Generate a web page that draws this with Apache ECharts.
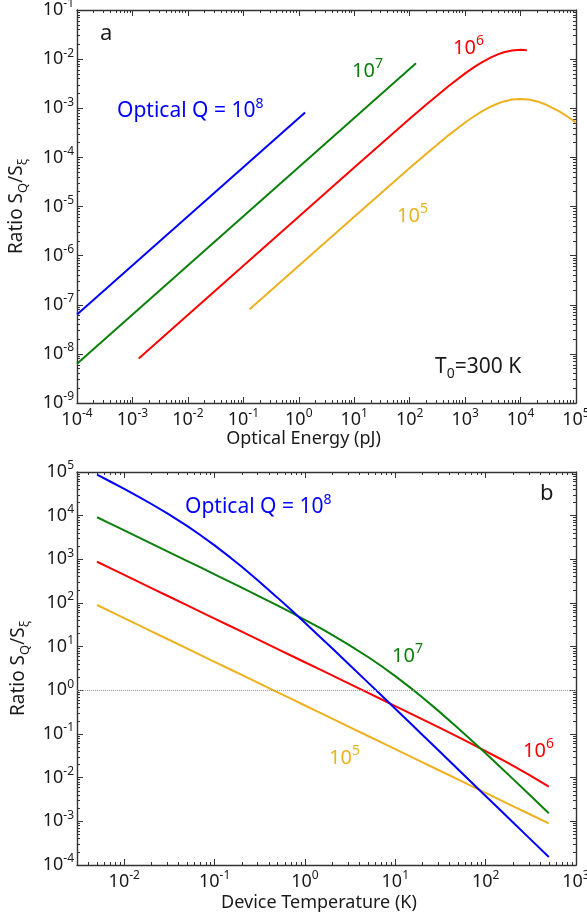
<!DOCTYPE html>
<html>
<head>
<meta charset="utf-8">
<title>Ratio SQ/Sxi</title>
<script src="https://cdn.jsdelivr.net/npm/echarts@6/dist/echarts.min.js"></script>
<style>
html, body { margin: 0; padding: 0; background: #fff; }
#main { width: 587px; height: 918px; }
</style>
</head>
<body>
<div id="main"></div>
<script>
// panel a: ratio vs optical energy (pJ), T0 = 300 K
const energyQ8 = [1e-4, 1.3];
const ratioQ8 = [6.3e-8, 8.2e-4];
const energyQ7 = [1e-4, 130];
const ratioQ7 = [6.3e-9, 8.2e-3];
const energyQ6 = [1.3e-3, 0.1, 10, 100, 200, 500, 1000, 1500, 2000, 3000, 4000, 5000, 7000, 10000, 13000];
const ratioQ6 = [8.06e-9, 6.2e-7, 6.19e-5, 6.08e-4, 1.19e-3, 2.81e-3, 5.12e-3, 7.03e-3, 8.61e-3, 1.10e-2, 1.265e-2, 1.378e-2, 1.502e-2, 1.55e-2, 1.524e-2];
const energyQ5 = [0.13, 10, 100, 200, 500, 1000, 1500, 2000, 3000, 4000, 5000, 7000, 10000, 14000, 20000, 30000, 50000, 70000, 100000];
const ratioQ5 = [8.06e-8, 6.19e-6, 6.08e-5, 1.19e-4, 2.81e-4, 5.12e-4, 7.03e-4, 8.61e-4, 1.10e-3, 1.265e-3, 1.378e-3, 1.502e-3, 1.55e-3, 1.507e-3, 1.378e-3, 1.163e-3, 8.61e-4, 6.78e-4, 5.12e-4];

// panel b: ratio vs device temperature (K)
const tempK = [0.005, 0.007, 0.01, 0.015, 0.02, 0.03, 0.05, 0.07, 0.1, 0.15, 0.2, 0.3, 0.5, 0.7, 1, 1.5,
  2, 3, 5, 7, 10, 15, 20, 30, 50, 70, 100, 150, 200, 300, 500];
const ratioT8 = [8.68e4, 6.06e4, 4.1e4, 2.6e4, 1.85e4, 1.126e4, 5741, 3565, 2086, 1092, 674.6, 332.3, 131.0, 69.7, 35.25, 16.08,
  9.165, 4.128, 1.502, 0.770, 0.3787, 0.1688, 0.0951, 0.0423, 0.01525, 7.78e-3, 3.815e-3, 1.696e-3, 9.54e-4, 4.24e-4, 1.527e-4];
const ratioT7 = [9195, 6566, 4595, 3061, 2295, 1528, 914.6, 651.8, 454.7, 301.4, 224.7, 148.1, 86.89, 60.72, 41.16, 26.07,
  18.62, 11.33, 5.793, 3.604, 2.1135, 1.1092, 0.686, 0.3385, 0.1337, 0.07115, 0.03604, 0.016446, 9.377e-3, 4.225e-3, 1.538e-3];
const ratioT6 = [880, 628.6, 440, 293.3, 220, 146.7, 88, 62.86, 44, 29.33, 22.0, 14.66, 8.797, 6.282, 4.396, 2.930,
  2.196, 1.463, 0.8765, 0.625, 0.4364, 0.2897, 0.2164, 0.1431, 0.08448, 0.05937, 0.04062, 0.02607, 0.01886, 0.01173, 6.21e-3];
const ratioT5 = [90, 64.3, 45, 30, 22.5, 15, 9, 6.43, 4.5, 3, 2.25, 1.5, 0.9, 0.643, 0.45, 0.3,
  0.225, 0.15, 0.09, 0.0643, 0.045, 0.03, 0.0225, 0.015, 9e-3, 6.4e-3, 4.5e-3, 2.99e-3, 2.24e-3, 1.49e-3, 8.95e-4];

// axis ranges and decade labels (exponents)
const energyRange = [1e-4, 1e5];
const ratioRangeA = [1e-9, 1e-1];
const tempRange = [0.003, 1000];
const ratioRangeB = [1e-4, 1e5];
const energyExp = [-4, -3, -2, -1, 0, 1, 2, 3, 4, 5];
const ratioExpA = [-9, -8, -7, -6, -5, -4, -3, -2, -1];
const tempExp = [-2, -1, 0, 1, 2, 3];
const ratioExpB = [-4, -3, -2, -1, 0, 1, 2, 3, 4, 5];

const FONT = '"Noto Sans", sans-serif';
const INK = '#1a1a1a';
const C8 = '#0000ff', C7 = '#0a800a', C6 = '#ff0000', C5 = '#edb120';

const lg = Math.log10;
const pts = (xs, ys) => xs.map((x, i) => [lg(x), lg(ys[i])]);

function minorTicks(lo, hi) {
  const out = [];
  for (let d = Math.floor(lo); d < Math.ceil(hi); d++) {
    for (let k = 2; k <= 9; k++) {
      const v = d + lg(k);
      if (v > lo + 1e-6 && v < hi - 1e-6) out.push(v);
    }
  }
  return out;
}

const tickRich = {
  b: { fontSize: 18, lineHeight: 24, verticalAlign: 'middle', color: INK, fontFamily: FONT },
  s: { fontSize: 12, lineHeight: 14, verticalAlign: 'top', color: INK, fontFamily: FONT }
};
const powLabel = v => '{b|10}{s|' + Math.round(v) + '}';

// 4 axes per side pair: main, main minor, mirror, mirror minor
function logAxes(dim, gridIndex, range, exps, nameOpt) {
  const lo = lg(range[0]), hi = lg(range[1]);
  const minor = minorTicks(lo, hi);
  const pos = dim === 'x' ? ['bottom', 'top'] : ['left', 'right'];
  const mk = (position, ticks, len, withLine, withLabel) => {
    const ax = {
      type: 'value', gridIndex, position, min: lo, max: hi,
      splitLine: { show: false },
      axisLine: { show: withLine, onZero: false, lineStyle: { color: '#333', width: 1.4 } },
      axisTick: { show: true, inside: true, length: len, customValues: ticks, lineStyle: { color: '#333', width: 1 } },
      axisLabel: { show: false }
    };
    if (withLabel) {
      ax.axisLabel = {
        show: true, customValues: exps, formatter: powLabel, rich: tickRich,
        margin: dim === 'x' ? 5 : 3, showMinLabel: true, showMaxLabel: true, hideOverlap: false
      };
      Object.assign(ax, nameOpt);
    }
    return ax;
  };
  return [
    mk(pos[0], exps, 6, true, true),
    mk(pos[0], minor, 3, false, false),
    mk(pos[1], exps, 6, true, false),
    mk(pos[1], minor, 3, false, false)
  ];
}

const yName = {
  name: '{b|Ratio S}{sub|Q}{b|/S}{sub|ξ}',
  nameLocation: 'middle', nameRotate: 90,
  nameTextStyle: {
    rich: {
      b: { fontSize: 19, lineHeight: 26, verticalAlign: 'middle', color: INK, fontFamily: FONT },
      sub: { fontSize: 13, lineHeight: 14, verticalAlign: 'bottom', color: INK, fontFamily: FONT }
    }
  }
};

const xAxes = [].concat(
  logAxes('x', 0, energyRange, energyExp, {
    name: 'Optical Energy (pJ)', nameLocation: 'middle', nameGap: 27,
    nameTextStyle: { fontSize: 18, color: INK, fontFamily: FONT, padding: [0, 46, 0, 0] }
  }),
  logAxes('x', 1, tempRange, tempExp, {
    name: 'Device Temperature (K)', nameLocation: 'middle', nameGap: 29,
    nameTextStyle: { fontSize: 18, color: INK, fontFamily: FONT, padding: [0, 15, 0, 0] }
  })
);
const yAxes = [].concat(
  logAxes('y', 0, ratioRangeA, ratioExpA, Object.assign({ nameGap: 47 }, yName)),
  logAxes('y', 1, ratioRangeB, ratioExpB, Object.assign({ nameGap: 38 }, yName))
);

function curve(xs, ys, color, panel, extra) {
  return Object.assign({
    type: 'line', xAxisIndex: panel * 4, yAxisIndex: panel * 4,
    data: pts(xs, ys), symbol: 'none', smooth: false,
    lineStyle: { color, width: 2 }, animation: false
  }, extra || {});
}

// in-plot annotation text
function note(x, y, text, color, size, rich) {
  return {
    type: 'text', x, y, silent: true,
    style: {
      text, fill: color, font: size + 'px ' + FONT,
      align: 'left', verticalAlign: 'middle', textAlign: 'left', textVerticalAlign: 'middle',
      rich: rich || {}
    }
  };
}
function supRich(color, size) {
  return {
    b: { fill: color, fontSize: size, fontFamily: FONT, lineHeight: 28, verticalAlign: 'middle' },
    s: { fill: color, fontSize: Math.round(size * 0.68), fontFamily: FONT, lineHeight: 18, verticalAlign: 'top' }
  };
}
const subRich = {
  b: { fill: INK, fontSize: 21, fontFamily: FONT, lineHeight: 28, verticalAlign: 'middle' },
  sub: { fill: INK, fontSize: 14, fontFamily: FONT, lineHeight: 14, verticalAlign: 'bottom' }
};

const chart = echarts.init(document.getElementById('main'), null, { renderer: 'canvas' });
chart.setOption({
  animation: false,
  textStyle: { fontFamily: FONT },
  grid: [
    { left: 77, top: 10, width: 499, height: 393, containLabel: false, outerBoundsMode: 'none' },
    { left: 77, top: 472, width: 499, height: 393, containLabel: false, outerBoundsMode: 'none' }
  ],
  xAxis: xAxes,
  yAxis: yAxes,
  series: [
    curve(energyQ5, ratioQ5, C5, 0),
    curve(energyQ6, ratioQ6, C6, 0),
    curve(energyQ7, ratioQ7, C7, 0),
    curve(energyQ8, ratioQ8, C8, 0),
    curve(tempK, ratioT5, C5, 1, {
      markLine: {
        silent: true, symbol: ['none', 'none'], label: { show: false },
        lineStyle: { type: 'dotted', color: '#999', width: 1 },
        data: [{ yAxis: 0 }]
      }
    }),
    curve(tempK, ratioT6, C6, 1),
    curve(tempK, ratioT7, C7, 1),
    curve(tempK, ratioT8, C8, 1)
  ],
  graphic: [
    note(100, 34, 'a', INK, 22),
    note(117, 111, '{b|Optical Q = 10}{s|8}', C8, 21, supRich(C8, 21)),
    note(352, 71, '{b|10}{s|7}', C7, 20, supRich(C7, 20)),
    note(453, 48, '{b|10}{s|6}', C6, 20, supRich(C6, 20)),
    note(397, 216, '{b|10}{s|5}', C5, 20, supRich(C5, 20)),
    note(435, 367, '{b|T}{sub|0}{b|=300 K}', INK, 21, subRich),
    note(540, 494, 'b', INK, 22),
    note(185, 507, '{b|Optical Q = 10}{s|8}', C8, 21, supRich(C8, 21)),
    note(392, 656, '{b|10}{s|7}', C7, 20, supRich(C7, 20)),
    note(523, 751, '{b|10}{s|6}', C6, 20, supRich(C6, 20)),
    note(329, 758, '{b|10}{s|5}', C5, 20, supRich(C5, 20))
  ]
});
</script>
</body>
</html>
